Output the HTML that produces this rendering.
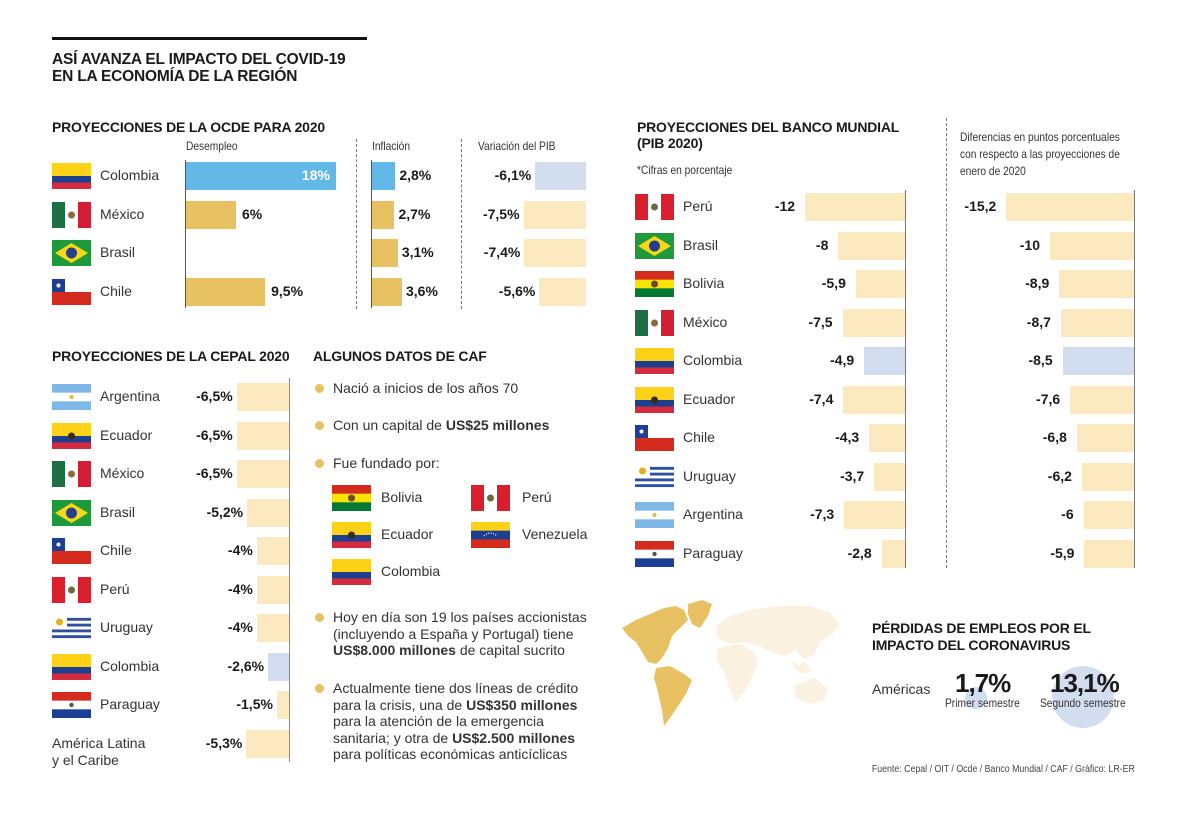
<!DOCTYPE html>
<html><head><meta charset="utf-8">
<style>
*{margin:0;padding:0;box-sizing:border-box}
body{width:1200px;height:813px;background:#fff;font-family:"Liberation Sans",sans-serif;color:#1a1a1a;overflow:hidden}
#root{position:relative;width:1200px;height:813px}
.a{position:absolute;white-space:nowrap}
.h{font-weight:bold;font-size:14px;letter-spacing:-0.2px}
.sub{font-size:12px;color:#333;transform:scaleX(0.85);transform-origin:left top}
.nm{font-size:14px;color:#333}
.v{font-size:14px;font-weight:bold}
.dash{position:absolute;border-left:1px dashed #777;width:0}
.ax{position:absolute;background:#555;width:1px}
.dot{position:absolute;width:9px;height:9px;border-radius:50%;background:#e8c262}
.t{font-size:14px;color:#333;line-height:16.5px}
</style></head><body>
<div id="root">
<div class="a" style="left:52px;top:37px;width:315px;height:3px;background:#111"></div>
<div class="a h" style="left:52px;top:51px;font-size:15.5px;line-height:17px">ASÍ AVANZA EL IMPACTO DEL COVID-19<br>EN LA ECONOMÍA DE LA REGIÓN</div>

<div class="a h" style="left:52px;top:119px">PROYECCIONES DE LA OCDE PARA 2020</div>
<div class="a sub" style="left:186px;top:139px">Desempleo</div>
<div class="a sub" style="left:372px;top:139px">Inflación</div>
<div class="a sub" style="left:478px;top:139px">Variación del PIB</div>
<div class="dash" style="left:356px;top:139px;height:170px"></div>
<div class="dash" style="left:461px;top:139px;height:170px"></div>
<div class="ax" style="left:185px;top:160px;height:148px"></div>
<div class="ax" style="left:371px;top:160px;height:148px"></div>

<div class="a h" style="left:52px;top:348px">PROYECCIONES DE LA CEPAL 2020</div>
<div class="ax" style="left:289px;top:378px;height:384px;background:#888"></div>
<div class="a nm" style="left:52px;top:735px;line-height:17px">América Latina<br>y el Caribe</div>

<div class="a h" style="left:313px;top:348px">ALGUNOS DATOS DE CAF</div>
<div class="dot" style="left:315px;top:384px"></div>
<div class="a t" style="left:333px;top:380px">Nació a inicios de los años 70</div>
<div class="dot" style="left:315px;top:421px"></div>
<div class="a t" style="left:333px;top:417px">Con un capital de <b>US$25 millones</b></div>
<div class="dot" style="left:315px;top:459px"></div>
<div class="a t" style="left:333px;top:455px">Fue fundado por:</div>
<div class="dot" style="left:315px;top:613px"></div>
<div class="a t" style="left:333px;top:609px">Hoy en día son 19 los países accionistas<br>(incluyendo a España y Portugal) tiene<br><b>US$8.000 millones</b> de capital sucrito</div>
<div class="dot" style="left:315px;top:684px"></div>
<div class="a t" style="left:333px;top:680px">Actualmente tiene dos líneas de crédito<br>para la crisis, una de <b>US$350 millones</b><br>para la atención de la emergencia<br>sanitaria; y otra de <b>US$2.500 millones</b><br>para políticas económicas anticíclicas</div>

<div class="a h" style="left:637px;top:119px;line-height:16px">PROYECCIONES DEL BANCO MUNDIAL<br>(PIB 2020)</div>
<div class="a sub" style="left:637px;top:163px">*Cifras en porcentaje</div>
<div class="dash" style="left:946px;top:118px;height:450px"></div>
<div class="a sub" style="left:960px;top:129px;line-height:17px">Diferencias en puntos porcentuales<br>con respecto a las proyecciones de<br>enero de 2020</div>
<div class="ax" style="left:905px;top:190px;height:378px;background:#777"></div>
<div class="ax" style="left:1134px;top:190px;height:378px;background:#777"></div>

<svg class="a" style="left:618px;top:600px" width="230" height="135">
<path d="M4 28 L18 20 L32 14 L46 8 L58 6 L66 10 L70 20 L62 28 L54 36 L50 48 L44 58 L38 64 L30 62 L24 52 L18 42 L10 36 Z" fill="#e8c262"/>
<path d="M70 4 L84 0 L94 4 L90 16 L82 28 L74 24 L70 14 Z" fill="#e8c262"/>
<path d="M38 68 L52 66 L66 74 L74 80 L68 94 L60 106 L52 118 L46 126 L44 110 L40 92 L36 78 Z" fill="#e8c262"/>
<path d="M98 26 L112 16 L132 10 L160 6 L190 6 L212 12 L222 24 L214 34 L202 42 L196 54 L186 60 L178 50 L166 56 L154 52 L140 46 L126 42 L112 44 L100 38 Z" fill="#fbf1e0"/>
<path d="M100 48 L122 44 L136 52 L140 62 L134 78 L126 92 L118 102 L112 90 L106 72 L98 60 Z" fill="#fbf1e0"/>
<path d="M172 60 L180 66 L186 62 L194 70 L188 74 L178 70 Z" fill="#fbf1e0"/>
<path d="M176 86 L196 78 L210 88 L206 100 L192 104 L178 98 Z" fill="#fbf1e0"/>
</svg>
<div class="a h" style="left:872px;top:620px;line-height:17px">PÉRDIDAS DE EMPLEOS POR EL<br>IMPACTO DEL CORONAVIRUS</div>
<div class="a" style="left:965px;top:687px;width:22px;height:22px;border-radius:50%;background:#d3ddf0"></div>
<div class="a" style="left:1052px;top:666px;width:62px;height:62px;border-radius:50%;background:#d3ddf0"></div>
<div class="a nm" style="left:872px;top:681px">Américas</div>
<div class="a" style="left:955px;top:668px;font-size:26px;font-weight:bold;letter-spacing:-1px">1,7%</div>
<div class="a sub" style="left:945px;top:696px">Primer semestre</div>
<div class="a" style="left:1050px;top:668px;font-size:26px;font-weight:bold;letter-spacing:-1px">13,1%</div>
<div class="a sub" style="left:1040px;top:696px">Segundo semestre</div>
<div class="a" style="right:65px;top:764px;font-size:10px;color:#444;transform:scaleX(0.88);transform-origin:right top">Fuente: Cepal / OIT / Ocde / Banco Mundial / CAF / Gráfico: LR-ER</div>
</div>
<script>
// OCDE
const ocdeCountries=["Colombia","México","Brasil","Chile"];
const ocdeDesempleo=[18,6,null,9.5];
const ocdeDesempleoLabels=["18%","6%","","9,5%"];
const ocdeInflacion=[2.8,2.7,3.1,3.6];
const ocdeInflacionLabels=["2,8%","2,7%","3,1%","3,6%"];
const ocdePib=[-6.1,-7.5,-7.4,-5.6];
const ocdePibLabels=["-6,1%","-7,5%","-7,4%","-5,6%"];
// CEPAL
const cepalCountries=["Argentina","Ecuador","México","Brasil","Chile","Perú","Uruguay","Colombia","Paraguay","ALC"];
const cepalValues=[-6.5,-6.5,-6.5,-5.2,-4,-4,-4,-2.6,-1.5,-5.3];
const cepalLabels=["-6,5%","-6,5%","-6,5%","-5,2%","-4%","-4%","-4%","-2,6%","-1,5%","-5,3%"];
// Banco Mundial
const bmCountries=["Perú","Brasil","Bolivia","México","Colombia","Ecuador","Chile","Uruguay","Argentina","Paraguay"];
const bmValues=[-12,-8,-5.9,-7.5,-4.9,-7.4,-4.3,-3.7,-7.3,-2.8];
const bmLabels=["-12","-8","-5,9","-7,5","-4,9","-7,4","-4,3","-3,7","-7,3","-2,8"];
const bmDiff=[-15.2,-10,-8.9,-8.7,-8.5,-7.6,-6.8,-6.2,-6,-5.9];
const bmDiffLabels=["-15,2","-10","-8,9","-8,7","-8,5","-7,6","-6,8","-6,2","-6","-5,9"];
// CAF founders
const cafFounders=["Bolivia","Perú","Ecuador","Venezuela","Colombia"];

const root=document.getElementById('root');
const K=8.33;
const scale=v=>Math.abs(v)*K;
function box(x,y,w,h,bg){const d=document.createElement('div');d.className='a';d.style.cssText=`left:${x}px;top:${y}px;width:${w}px;height:${h}px;background:${bg}`;root.appendChild(d);return d;}
function txt(x,y,s,cls,align){const d=document.createElement('div');d.className='a '+cls;d.textContent=s;
 if(align==='r'){d.style.right=(1200-x)+'px';}else d.style.left=x+'px';d.style.top=y+'px';root.appendChild(d);return d;}
function flag(c){
 const W=39,H=26;let s='';
 const hs=(cols)=>{let h=H/cols.length;return cols.map((c,i)=>`<rect y="${i*h}" width="${W}" height="${h+0.3}" fill="${c}"/>`).join('');};
 const vs=(cols)=>{let w=W/cols.length;return cols.map((c,i)=>`<rect x="${i*w}" width="${w+0.3}" height="${H}" fill="${c}"/>`).join('');};
 const em=(f)=>`<circle cx="19.5" cy="13" r="3.5" fill="${f}"/>`;
 switch(c){
 case"Colombia":s=`<rect width="39" height="13" fill="#fcd116"/><rect y="13" width="39" height="6.5" fill="#1d3f8f"/><rect y="19.5" width="39" height="6.5" fill="#d52b3e"/>`;break;
 case"Ecuador":s=`<rect width="39" height="13" fill="#fcd116"/><rect y="13" width="39" height="6.5" fill="#1d3f8f"/><rect y="19.5" width="39" height="6.5" fill="#d52b3e"/>`+em("#3a2a10");break;
 case"México":s=vs(["#1f6f45","#fff","#d21f35"])+em("#8a6a3a");break;
 case"Perú":s=vs(["#d91e2e","#fff","#d91e2e"])+em("#6a6a3a");break;
 case"Brasil":s=`<rect width="39" height="26" fill="#1e9a3c"/><polygon points="19.5,3 36,13 19.5,23 3,13" fill="#f8d718"/><circle cx="19.5" cy="13" r="5.5" fill="#253f8c"/>`;break;
 case"Chile":s=`<rect width="39" height="13" fill="#fff"/><rect y="13" width="39" height="13" fill="#d52b1e"/><rect width="13" height="13" fill="#1c3f94"/><circle cx="6.5" cy="6.5" r="2" fill="#fff"/>`;break;
 case"Argentina":s=hs(["#7fb7e6","#fff","#7fb7e6"])+`<circle cx="19.5" cy="13" r="2" fill="#e8b83a"/>`;break;
 case"Uruguay":for(let i=0;i<9;i++)s+=`<rect y="${i*26/9}" width="39" height="${26/9+0.2}" fill="${i%2?'#2d4fa0':'#fff'}"/>`;s+=`<rect width="15" height="14.5" fill="#fff"/><circle cx="7.5" cy="7" r="3.5" fill="#e0b020"/>`;break;
 case"Paraguay":s=hs(["#d52b1e","#fff","#1c3f94"])+`<circle cx="19.5" cy="13" r="2.2" fill="#555"/>`;break;
 case"Bolivia":s=hs(["#d52b1e","#f9e300","#007934"])+em("#6a4a2a");break;
 case"Venezuela":s=hs(["#fcd116","#1c3f94","#d52b1e"])+`<path d="M13 14 Q19.5 8 26 14" stroke="#fff" stroke-width="1.2" fill="none" stroke-dasharray="1 1.5"/>`;break;
 }
 return `<svg width="39" height="26" viewBox="0 0 39 26">${s}</svg>`;
}
function addFlag(x,cy,c){const d=document.createElement('div');d.className='a';d.style.cssText=`left:${x}px;top:${cy-13}px;width:39px;height:26px`;d.innerHTML=flag(c);
 
 
 root.appendChild(d);}
const GOLD='#e8c262',BLUE='#63b8e8',CREAM='#fde9c0',LBLUE='#d3ddf0';
ocdeCountries.forEach((c,i)=>{
 const cy=176+i*38.5;
 addFlag(52,cy,c);
 const n=txt(100,cy-9,c,'nm');
 
 
 if(ocdeDesempleo[i]!=null){
  const w=scale(ocdeDesempleo[i]);
  const b=box(186,cy-14,w,28,i===0?BLUE:GOLD);
  
  
  let l;
  if(i===0){l=txt(186+w-6,cy-9,ocdeDesempleoLabels[i],'v','r');l.style.color='#fff';}
  else l=txt(186+w+6,cy-9,ocdeDesempleoLabels[i],'v');
  
  
 }
 const wi=scale(ocdeInflacion[i]);
 const bi=box(372,cy-14,wi,28,i===0?BLUE:GOLD);
 
 
 const li=txt(372+wi+4,cy-9,ocdeInflacionLabels[i],'v');
 
 
 const wp=scale(ocdePib[i]);
 const bp=box(586-wp,cy-14,wp,28,i===0?LBLUE:CREAM);
 
 
 const lp=txt(586-wp-4,cy-9,ocdePibLabels[i],'v','r');
 
 
});
cepalCountries.forEach((c,i)=>{
 const cy=397+i*38.5;
 if(c!=="ALC"){addFlag(52,cy,c);
  const n=txt(100,cy-9,c,'nm');
  
  }
 const w=cepalValues[i]*-8.05;
 const b=box(289-w,cy-14,w,28,c==="Colombia"?LBLUE:CREAM);
 
 
 const l=txt(289-w-4,cy-9,cepalLabels[i],'v','r');
 
 
});
cafFounders.forEach((c,i)=>{
 const col=i%2,row=Math.floor(i/2);
 const x=col?471:332,cy=498+row*37;
 addFlag(x,cy,c);
 const n=txt(col?522:381,cy-9,c,'nm');
 
 
});
bmCountries.forEach((c,i)=>{
 const cy=207+i*38.5;
 addFlag(635,cy,c);
 const n=txt(683,cy-9,c,'nm');
 
 
 const w=scale(bmValues[i]);
 const b=box(905-w,cy-14,w,28,c==="Colombia"?LBLUE:CREAM);
 
 
 const l=txt(905-w-10,cy-9,bmLabels[i],'v','r');
 
 
 const wd=bmDiff[i]*-8.4;
 const bd=box(1134-wd,cy-14,wd,28,c==="Colombia"?LBLUE:CREAM);
 
 
 const ld=txt(1134-wd-10,cy-9,bmDiffLabels[i],'v','r');
 
 
});
</script>
</body></html>
